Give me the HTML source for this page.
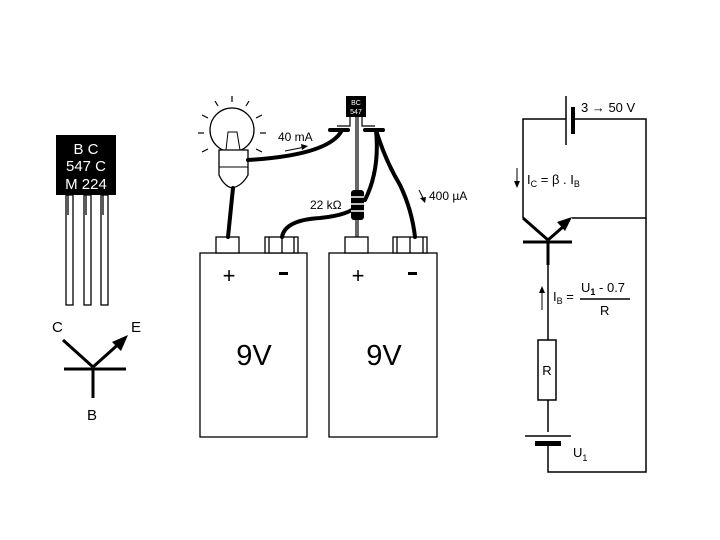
<!DOCTYPE html>
<html><head><style>body{margin:0;background:#fff}svg{display:block}text{font-family:"Liberation Sans",sans-serif}</style></head><body>
<svg width="720" height="540" viewBox="0 0 720 540" xmlns="http://www.w3.org/2000/svg">
<rect width="720" height="540" fill="#fff"/>
<!-- transistor package -->
<rect x="56" y="135" width="60" height="60" fill="#000"/>
<text x="86" y="154" fill="#fff" font-size="15" text-anchor="middle">B C</text>
<text x="86" y="171" fill="#fff" font-size="15" text-anchor="middle">547 C</text>
<text x="86" y="189" fill="#fff" font-size="15" text-anchor="middle">M 224</text>
<g fill="#fff" stroke="#000" stroke-width="1.3">
<rect x="66" y="195" width="7" height="110"/><rect x="84" y="195" width="7" height="110"/><rect x="101" y="195" width="7" height="110"/>
</g>
<g stroke="#000" stroke-width="1.3"><line x1="68" y1="195" x2="68" y2="215"/><line x1="86" y1="195" x2="86" y2="215"/><line x1="103" y1="195" x2="103" y2="215"/></g>
<!-- symbol -->
<text x="52" y="332" font-size="15">C</text><text x="131" y="332" font-size="15">E</text><text x="87" y="420" font-size="15">B</text>
<g stroke="#000" stroke-width="3" fill="none">
<line x1="63" y1="340" x2="93" y2="367"/><line x1="93" y1="367" x2="122" y2="341"/>
<line x1="64" y1="369" x2="126" y2="369"/><line x1="93" y1="369" x2="93" y2="398"/></g>
<polygon points="128,335 112,342 121,351" fill="#000"/>
<!-- batteries -->
<g fill="#fff" stroke="#000" stroke-width="1.3">
<rect x="200" y="253" width="107" height="184"/><rect x="329" y="253" width="108" height="184"/>
<rect x="216" y="237" width="23" height="16"/><rect x="345" y="237" width="23" height="16"/>
<rect x="265" y="237" width="33" height="16"/><rect x="393" y="237" width="34" height="16"/>
</g>
<g stroke="#000" stroke-width="1.3"><line x1="269" y1="237" x2="269" y2="253"/><line x1="282" y1="237" x2="282" y2="253"/><line x1="294" y1="237" x2="294" y2="253"/>
<line x1="397" y1="237" x2="397" y2="253"/><line x1="410" y1="237" x2="410" y2="253"/><line x1="423" y1="237" x2="423" y2="253"/></g>
<text x="229" y="283" font-size="22" text-anchor="middle">+</text><text x="358" y="283" font-size="22" text-anchor="middle">+</text>
<rect x="279" y="272" width="9" height="3" fill="#000"/><rect x="408" y="272" width="9" height="3" fill="#000"/>
<text x="254" y="365" font-size="29" text-anchor="middle">9V</text><text x="384" y="365" font-size="29" text-anchor="middle">9V</text>
<!-- bulb -->
<circle cx="232" cy="130" r="22" fill="#fff" stroke="#000" stroke-width="1.3"/>
<path d="M219 150 L219 175 Q224 186 232 188 Q242 186 248 175 L248 150 Z" fill="#fff" stroke="#000" stroke-width="1.3"/>
<line x1="219" y1="167" x2="248" y2="167" stroke="#000"/>
<path d="M226 150 L228 132 L237 132 L240 150" fill="none" stroke="#000"/>
<g stroke="#000" stroke-width="1.2"><line x1="232" y1="96" x2="232" y2="102"/><line x1="215" y1="101" x2="218" y2="106"/><line x1="249" y1="101" x2="246" y2="106"/><line x1="202" y1="115" x2="208" y2="118"/><line x1="262" y1="115" x2="256" y2="118"/><line x1="198" y1="133" x2="204" y2="133"/><line x1="260" y1="133" x2="266" y2="133"/><line x1="202" y1="152" x2="208" y2="149"/><line x1="262" y1="152" x2="256" y2="149"/></g>
<!-- small transistor -->
<rect x="346" y="96" width="20" height="21" fill="#000"/>
<text x="356" y="105" fill="#fff" font-size="7" text-anchor="middle">BC</text><text x="356" y="114" fill="#fff" font-size="7" text-anchor="middle">547</text>
<g stroke="#000" stroke-width="1.2" fill="none"><path d="M350 117 V126 H337"/><path d="M362 117 V126 H375"/><line x1="356" y1="117" x2="356" y2="237"/><line x1="358" y1="117" x2="358" y2="237"/></g>
<!-- wires -->
<g stroke="#000" stroke-width="4" fill="none" stroke-linecap="round">
<line x1="330" y1="130" x2="348" y2="130"/><line x1="365" y1="130" x2="383" y2="130"/>
<path d="M248 160 Q330 155 342 130"/>
<path d="M233 188 L228 237"/>
<path d="M282 237 Q285 220 320 218 Q350 215 358 205"/>
<path d="M376 130 Q380 170 365 200"/>
<path d="M376 130 Q385 160 400 185 Q412 210 415 237"/>
</g>
<rect x="351" y="190" width="13" height="30" rx="3" fill="#000"/>
<g stroke="#fff" stroke-width="1.5"><line x1="351" y1="197" x2="364" y2="197"/><line x1="351" y1="204" x2="364" y2="204"/><line x1="351" y1="211" x2="364" y2="211"/></g>
<text x="278" y="141" font-size="12">40 mA</text>
<line x1="285" y1="151" x2="305" y2="147" stroke="#000"/><polygon points="308,146 301,144 302,150" fill="#000"/>
<text x="310" y="209" font-size="12">22 kΩ</text>
<text x="429" y="200" font-size="12">400 µA</text>
<line x1="419" y1="190" x2="424" y2="200" stroke="#000"/><polygon points="425,203 420,198 426,197" fill="#000"/>
<!-- circuit -->
<g stroke="#000" stroke-width="1.5" fill="none">
<path d="M566 119 H523 V218"/><path d="M574 119 H646 V472 H548 V443"/>
<line x1="572" y1="218" x2="646" y2="218"/>
<line x1="548" y1="265" x2="548" y2="340"/><rect x="538" y="340" width="18" height="60"/><line x1="548" y1="400" x2="548" y2="432"/>
<line x1="525" y1="436" x2="571" y2="436"/><line x1="566" y1="96" x2="566" y2="145"/>
</g>
<g stroke="#000" stroke-width="3">
<line x1="523" y1="218" x2="548" y2="240"/><line x1="548" y1="240" x2="564" y2="226"/>
<line x1="523" y1="242" x2="572" y2="242"/><line x1="548" y1="242" x2="548" y2="265"/>
</g>
<polygon points="572,217 557,222 565,231" fill="#000"/>
<rect x="571" y="107" width="4" height="27" fill="#000"/>
<rect x="535" y="441" width="26" height="5" fill="#000"/>
<text x="581" y="112" font-size="13">3 → 50 V</text>
<text x="527" y="184" font-size="13">I<tspan font-size="9" dy="3">C</tspan><tspan dy="-3"> = β . I</tspan><tspan font-size="9" dy="3">B</tspan></text>
<line x1="517" y1="168" x2="517" y2="185" stroke="#000"/><polygon points="517,188 514,181 520,181" fill="#000"/>
<line x1="542" y1="290" x2="542" y2="310" stroke="#000"/><polygon points="542,286 539,293 545,293" fill="#000"/>
<text x="553" y="301" font-size="13">I<tspan font-size="9" dy="3">B</tspan><tspan dy="-3"> =</tspan></text>
<text x="581" y="292" font-size="13">U<tspan font-size="9" font-weight="bold" dy="3">1</tspan><tspan dy="-3"> - 0.7</tspan></text>
<line x1="580" y1="299" x2="630" y2="299" stroke="#000" stroke-width="1.5"/>
<text x="600" y="315" font-size="13">R</text>
<text x="547" y="375" font-size="13" text-anchor="middle">R</text>
<text x="573" y="457" font-size="13">U<tspan font-size="9" dy="4">1</tspan></text>
</svg>
</body></html>
